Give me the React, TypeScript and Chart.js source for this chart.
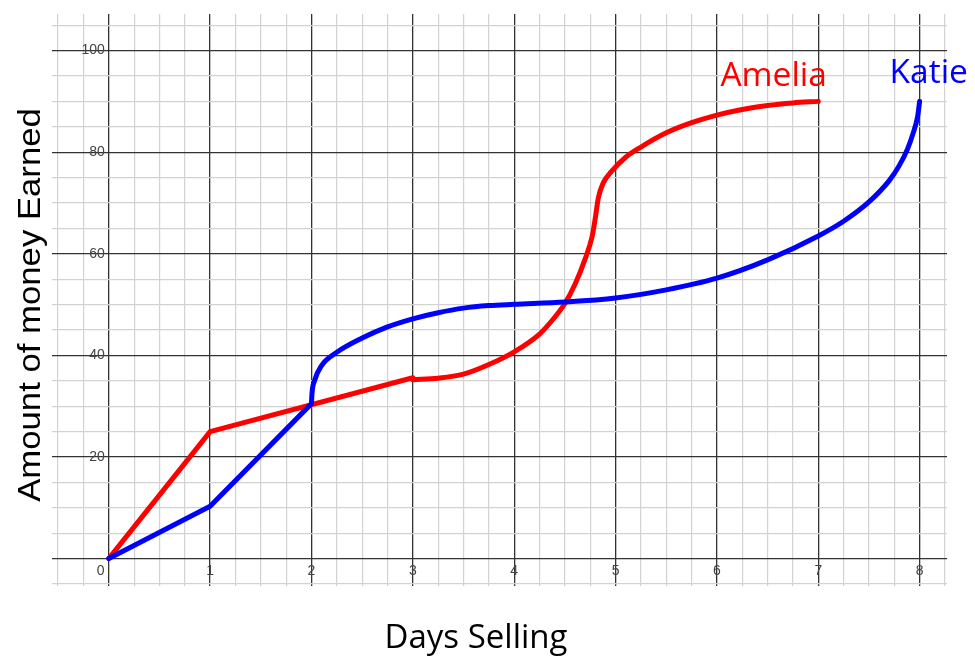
import React, { useEffect, useRef } from "react";
import { Chart, registerables } from "chart.js";

Chart.register(...registerables);

// Amelia: straight part, then curved part
const AMELIA_LINE_X = [0, 1, 3];
const AMELIA_LINE_Y = [0, 25, 35.6];
const AMELIA_CURVE_X = [3, 3.25, 3.5, 3.75, 4, 4.25, 4.4, 4.5, 4.6, 4.7, 4.77, 4.8, 4.83, 4.88, 4.96, 5.1, 5.25, 5.5, 5.75, 6, 6.25, 6.5, 6.75, 7];
const AMELIA_CURVE_Y = [35.2, 35.5, 36.3, 38.2, 40.7, 44.2, 47.5, 50.2, 54, 59, 63.5, 67, 71, 74, 76.2, 79, 81, 83.8, 85.8, 87.3, 88.4, 89.2, 89.7, 90];

// Katie: straight part, then curved part
const KATIE_LINE_X = [0, 1, 2];
const KATIE_LINE_Y = [0, 10.3, 30.5];
const KATIE_CURVE_X = [2, 2.005, 2.03, 2.1, 2.25, 2.5, 2.75, 3, 3.25, 3.5, 3.75, 4, 4.5, 5, 5.5, 6, 6.5, 7, 7.25, 7.5, 7.7, 7.8, 7.88, 7.94, 7.98, 8];
const KATIE_CURVE_Y = [30.5, 32.5, 35, 38, 40.6, 43.4, 45.6, 47.2, 48.4, 49.3, 49.8, 50.05, 50.5, 51.3, 52.9, 55.2, 58.8, 63.5, 66.4, 70.2, 74.4, 77.4, 80.6, 84, 87, 90];

const X_TICK_LABELS = ["0", "1", "2", "3", "4", "5", "6", "7", "8"];
const X_TICK_VALUES = [0, 1, 2, 3, 4, 5, 6, 7, 8];
const Y_TICK_LABELS = ["20", "40", "60", "80", "100"];
const Y_TICK_VALUES = [20, 40, 60, 80, 100];

const SERIES_NAMES = ["Amelia", "Katie"];
const SERIES_COLORS = ["#ff0000", "#0000ff"];

const X_MIN = -0.56;
const X_MAX = 8.27;
const Y_MIN = -5.4;
const Y_MAX = 107.2;

function pts(xs: number[], ys: number[]) {
  return xs.map((x, i) => ({ x, y: ys[i] }));
}

function range(a: number, b: number, step: number) {
  const out: number[] = [];
  for (let v = a; v <= b + 1e-9; v += step) out.push(Math.round(v * 1000) / 1000);
  return out;
}

const labelsPlugin = {
  id: "labelsPlugin",
  beforeDatasetsDraw(chart: any) {
    const ctx = chart.ctx;
    const xs = chart.scales.x;
    const ys = chart.scales.y;
    ctx.save();
    ctx.font = '14px "Liberation Sans", Arial, sans-serif';
    ctx.fillStyle = "#444";
    ctx.textAlign = "center";
    ctx.textBaseline = "middle";
    const y0 = ys.getPixelForValue(0);
    X_TICK_VALUES.forEach((v, i) => {
      const px = xs.getPixelForValue(v) + (v === 0 ? -8 : 0);
      ctx.fillText(X_TICK_LABELS[i], px, y0 + 13);
    });
    ctx.textAlign = "right";
    const x0 = xs.getPixelForValue(0);
    Y_TICK_VALUES.forEach((v, i) => {
      ctx.fillText(Y_TICK_LABELS[i], x0 - 4, ys.getPixelForValue(v));
    });
    ctx.restore();
  },
  afterDraw(chart: any) {
    const ctx = chart.ctx;
    const xs = chart.scales.x;
    const ys = chart.scales.y;
    ctx.save();
    ctx.fillStyle = "#000";
    ctx.font = '33px "Open Sans", "Noto Sans", sans-serif';
    ctx.textAlign = "center";
    ctx.textBaseline = "alphabetic";
    ctx.fillText("Days Selling", 476, 648);
    ctx.save();
    ctx.translate(40, 305);
    ctx.rotate(-Math.PI / 2);
    ctx.scale(1.12, 1);
    ctx.font = '31px "Liberation Sans", Arial, sans-serif';
    ctx.fillText("Amount of money Earned", 0, 0);
    ctx.restore();
    ctx.font = '33.5px "Open Sans", "Noto Sans", sans-serif';
    ctx.fillStyle = SERIES_COLORS[0];
    ctx.fillText(SERIES_NAMES[0], xs.getPixelForValue(6.56), ys.getPixelForValue(93.0));
    ctx.fillStyle = SERIES_COLORS[1];
    ctx.fillText(SERIES_NAMES[1], xs.getPixelForValue(8.09), ys.getPixelForValue(93.6));
    ctx.restore();
  },
};

export default function App() {
  const ref = useRef<HTMLCanvasElement | null>(null);
  useEffect(() => {
    document.body.style.margin = "0";
    if (!ref.current) return;
    const common = {
      pointRadius: 0,
      borderWidth: 5,
      borderCapStyle: "round" as const,
      borderJoinStyle: "round" as const,
      fill: false,
    };
    const chart = new Chart(ref.current, {
      type: "line",
      data: {
        datasets: [
          { ...common, label: SERIES_NAMES[1], data: pts(KATIE_LINE_X, KATIE_LINE_Y), borderColor: SERIES_COLORS[1], tension: 0 },
          { ...common, label: SERIES_NAMES[1], data: pts(KATIE_CURVE_X, KATIE_CURVE_Y), borderColor: SERIES_COLORS[1], cubicInterpolationMode: "monotone" },
          { ...common, label: SERIES_NAMES[0], data: pts(AMELIA_LINE_X, AMELIA_LINE_Y), borderColor: SERIES_COLORS[0], tension: 0 },
          { ...common, label: SERIES_NAMES[0], data: pts(AMELIA_CURVE_X, AMELIA_CURVE_Y), borderColor: SERIES_COLORS[0], cubicInterpolationMode: "monotone" },
        ],
      },
      options: {
        animation: false,
        responsive: false,
        layout: { padding: { left: 52, right: 28, top: 14, bottom: 80 } },
        plugins: { legend: { display: false }, tooltip: { enabled: false } },
        scales: {
          x: {
            type: "linear",
            min: X_MIN,
            max: X_MAX,
            afterBuildTicks: (s: any) => {
              s.ticks = range(-0.5, 8.25, 0.25).map((v) => ({ value: v }));
            },
            ticks: { display: false },
            border: { display: false },
            grid: {
              drawTicks: false,
              color: (c: any) => (Number.isInteger(c.tick.value) ? "#333" : "#d2d2d2"),
              lineWidth: (c: any) => (Number.isInteger(c.tick.value) ? 1.3 : 1.2),
            },
          },
          y: {
            type: "linear",
            min: Y_MIN,
            max: Y_MAX,
            afterBuildTicks: (s: any) => {
              s.ticks = range(-5, 105, 5).map((v) => ({ value: v }));
            },
            ticks: { display: false },
            border: { display: false },
            grid: {
              drawTicks: false,
              color: (c: any) => (c.tick.value % 20 === 0 ? "#333" : "#d2d2d2"),
              lineWidth: (c: any) => (c.tick.value % 20 === 0 ? 1.3 : 1.2),
            },
          },
        },
      },
      plugins: [labelsPlugin],
    } as any);
    return () => chart.destroy();
  }, []);
  return (
    <div style={{ width: 975, height: 666, background: "#fff" }}>
      <canvas ref={ref} width={975} height={666} style={{ display: "block" }} />
    </div>
  );
}
